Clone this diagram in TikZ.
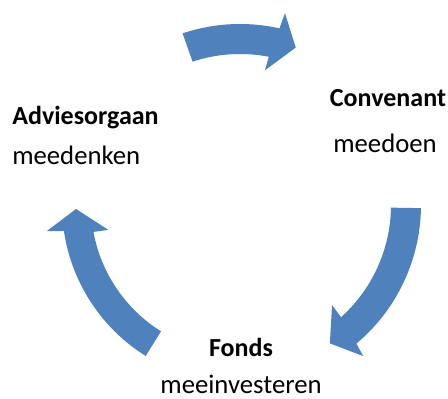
\documentclass[tikz,border=0pt]{standalone}
\usepackage{fontspec}
\setmainfont{Carlito}
\usetikzlibrary{calc}
\definecolor{cycleblue}{HTML}{4F81BD}

\begin{document}
\begin{tikzpicture}[x=0.025cm,y=0.025cm,
  cyclearrow/.style={fill=cycleblue},
  rolename/.style={font=\fontsize{18.5}{20}\selectfont\bfseries,anchor=base,inner sep=0pt},
  roleverb/.style={font=\fontsize{19}{20}\selectfont,anchor=base,inner sep=0pt}]
\useasboundingbox (0,0) rectangle (448,399);
\coordinate (c) at (240,194);
% boven: adviesorgaan -> convenant
\fill[cyclearrow] ($(c)+(108.5:181)$) arc[start angle=108.5,end angle=77.4,radius=181]
  -- ($(c)+(76.8:197)$) -- ($(c)+(70.5:167)$) -- ($(c)+(79.5:137)$)
  -- ($(c)+(79:151)$) arc[start angle=79,end angle=108.3,radius=151] -- cycle;
% rechts: convenant -> fonds
\fill[cyclearrow] ($(c)+(-1:181)$) arc[start angle=-1,end angle=-50,radius=181]
  -- ($(c)+(-50.8:195)$) -- ($(c)+(-57:165)$) -- ($(c)+(-47.4:136)$)
  -- ($(c)+(-48:151)$) arc[start angle=-48,end angle=-1,radius=151] -- cycle;
% links: fonds -> adviesorgaan
\fill[cyclearrow] ($(c)+(238:178)$) arc[start angle=238,end angle=188.4,radius=178]
  -- ($(c)+(187.7:195)$) -- ($(c)+(181.4:164)$) -- ($(c)+(190.7:134)$)
  -- ($(c)+(190.4:149)$) arc[start angle=190.4,end angle=238,radius=149] -- cycle;
% teksten
\node[rolename,anchor=base west] (advies) at (12,274) {Adviesorgaan};
\node[roleverb,anchor=base west] (denken) at (12,234) {meedenken};
\node[rolename] (conv) at (388,292) {Convenant};
\node[roleverb] (doen) at (385,246) {meedoen};
\node[rolename] (fonds) at (241,42) {Fonds};
\node[roleverb] (invest) at (241,5) {meeinvesteren};
\end{tikzpicture}
\end{document}
